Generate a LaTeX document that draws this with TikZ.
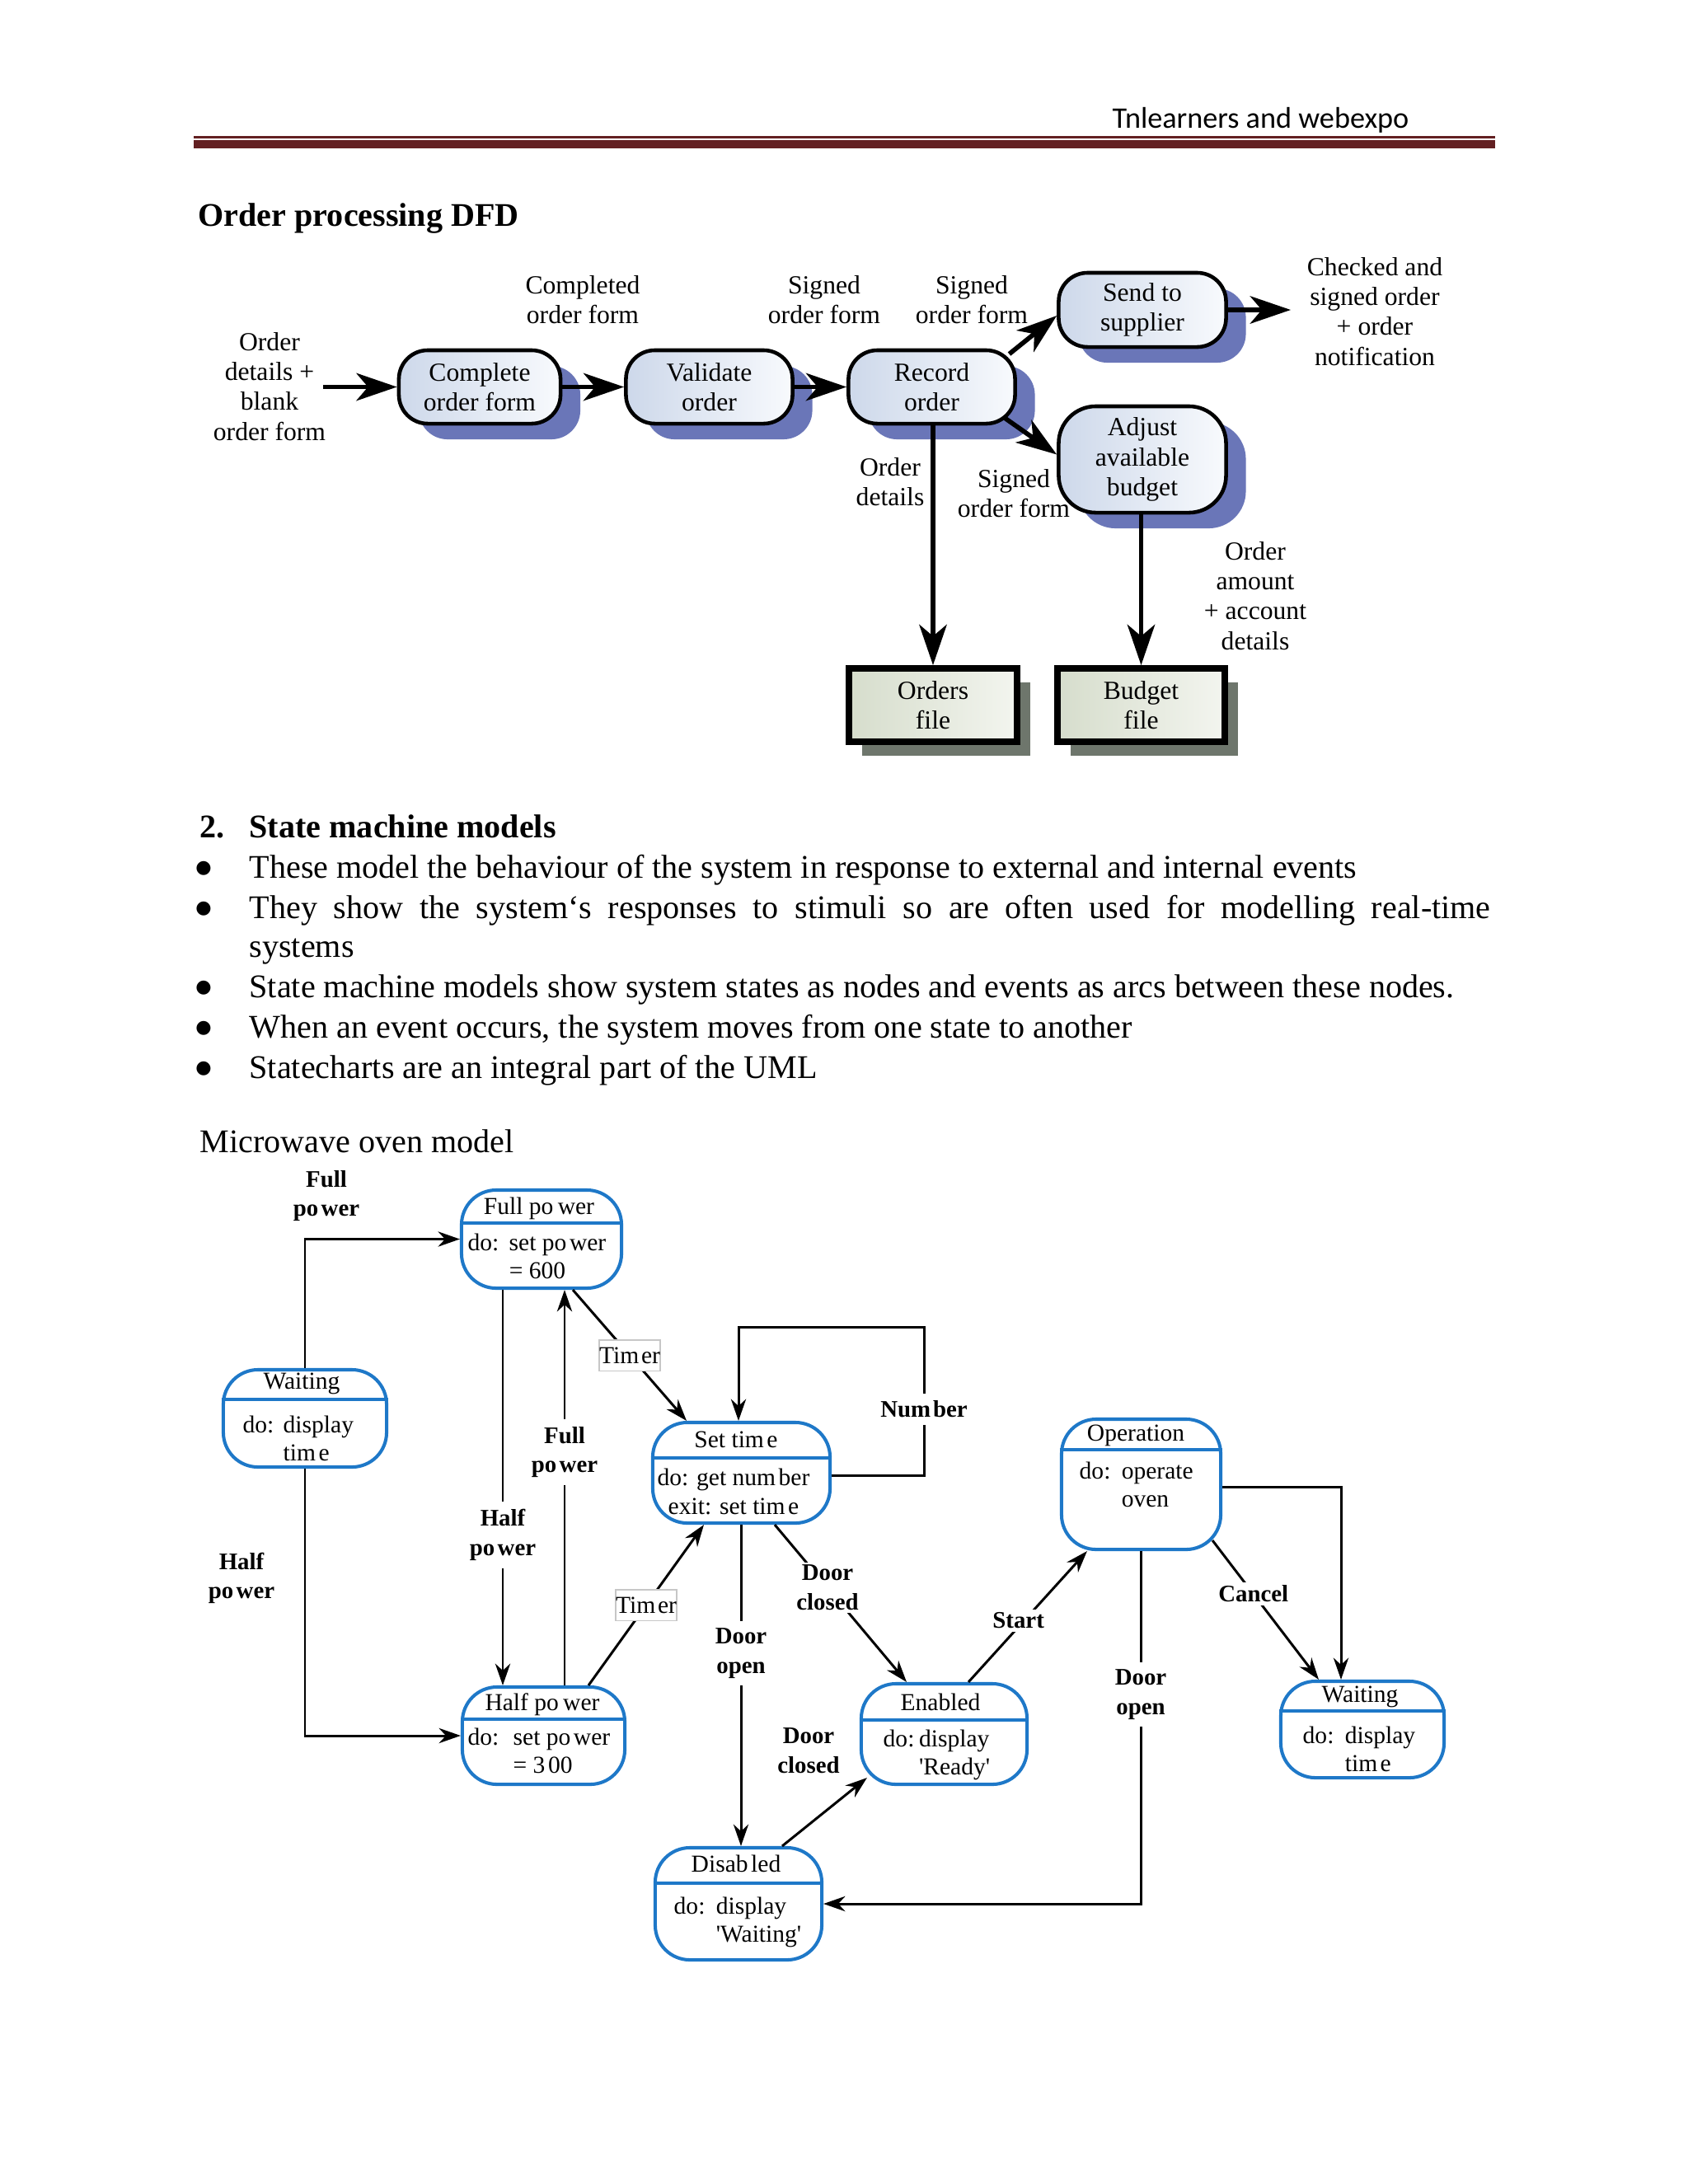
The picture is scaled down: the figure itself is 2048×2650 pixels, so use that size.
\documentclass[tikz,border=0pt]{standalone}
\usepackage{fontspec}
\setmainfont{Liberation Serif}
\newfontfamily\hdrfont{Carlito}
\newfontfamily\djv{DejaVu Sans}
\usetikzlibrary{arrows.meta,shadows,calc}
\definecolor{rulered}{RGB}{99,32,34}
\definecolor{procL}{RGB}{205,216,234}
\definecolor{procR}{RGB}{248,250,253}
\definecolor{shadowblue}{RGB}{106,118,184}
\definecolor{fileL}{RGB}{214,221,204}
\definecolor{fileR}{RGB}{243,245,239}
\definecolor{fileshadow}{RGB}{110,118,108}
\definecolor{mblue}{RGB}{30,120,200}
\newcommand\mybody{\fontsize{11.4}{13.9}\selectfont}
\newcommand\dfdtxt{\fontsize{9}{10.3}\selectfont}
\newcommand\mwtxt{\fontsize{8.4}{9.8}\selectfont}
\newcommand\mwbf{\bfseries\fontsize{8.2}{10.1}\selectfont}
\newcommand\dob[3]{\begin{tabular}[t]{@{}l@{\hspace{#1}}l@{}}do: & #2\\ & #3\end{tabular}}
\begin{document}
\begin{tikzpicture}[x=0.01cm,y=-0.01cm,
  proc/.style={draw=black, line width=1.3pt, rounded corners=0.35cm, left color=procL, right color=procR, inner sep=0pt, align=center, font=\dfdtxt, drop shadow={shadow xshift=0.24cm, shadow yshift=-0.19cm, fill=shadowblue, opacity=1}},
  filebox/.style={draw=black, line width=2.2pt, left color=fileL, right color=fileR, inner sep=0pt, align=center, font=\dfdtxt, drop shadow={shadow xshift=0.16cm, shadow yshift=-0.17cm, fill=fileshadow, opacity=1}},
  dfdlbl/.style={align=center, font=\dfdtxt, inner sep=0pt},
  dfdarr/.style={line width=1.6pt, -{Stealth[length=14pt,width=9.5pt,inset=4pt]}},
  mstate/.style={draw=mblue, line width=1.15pt, rounded corners=0.42cm, fill=white, inner sep=0pt},
  mdiv/.style={draw=mblue, line width=1.15pt},
  mtitle/.style={font=\mwtxt, inner sep=0pt, anchor=base},
  mbody/.style={font=\mwtxt, inner sep=0pt, anchor=base west},
  marr/.style={line width=0.85pt, -{Stealth[length=7.5pt,width=5.2pt,inset=2.4pt]}},
  mlbl/.style={font=\mwbf, align=center, fill=white, inner sep=2.6pt},
  dlbl/.style={font=\mwbf, align=center, fill=white, inner sep=1pt},
  tbox/.style={font=\mwtxt, draw=black!22, line width=0.4pt, fill=white, inner xsep=0pt, inner ysep=2.5pt},
  txt/.style={anchor=base west, inner sep=0pt, font=\mybody},
  bul/.style={anchor=center, inner sep=0pt, font=\djv\fontsize{6.3}{6.3}\selectfont}
]
\fill[white] (0,0) rectangle (2048,2650);
\useasboundingbox (0,0) rectangle (2048,2650);

% ---------- header ----------
\node[anchor=base east, inner sep=0pt, font=\hdrfont\fontsize{10.3}{12}\selectfont] (hdr) at (1710,155) {Tnlearners and webexpo};
\fill[rulered] (235,165) rectangle (1814,167.5);
\fill[rulered] (235,170) rectangle (1814,180);

\node[txt, font=\bfseries\mybody] (dfdtitle) at (240,274) {Order processing DFD};

% ---------- DFD ----------
\node[proc, minimum width=1.96cm, minimum height=0.89cm] (comp) at (582,469.5) {Complete\\order form};
\node[proc, minimum width=2.02cm, minimum height=0.89cm] (vali) at (860.5,469.5) {Validate\\order};
\node[proc, minimum width=2.02cm, minimum height=0.89cm] (rec) at (1130.5,469.5) {Record\\order};
\node[proc, minimum width=2.03cm, minimum height=0.90cm] (send) at (1386,376) {Send to\\supplier};
\node[proc, minimum width=2.03cm, minimum height=1.29cm, rounded corners=0.45cm] (adj) at (1386,557.5) {Adjust\\available\\budget};
\node[filebox, minimum width=2.04cm, minimum height=0.89cm] (ofile) at (1132,855.5) {Orders\\file};
\node[filebox, minimum width=2.03cm, minimum height=0.89cm] (bfile) at (1384.5,855.5) {Budget\\file};

\coordinate (inA) at (392,469.5);
\coordinate (outA) at (1566,376);
\draw[dfdarr] (inA) -- (comp.west);
\draw[dfdarr] (comp.east) -- (vali.west);
\draw[dfdarr] (vali.east) -- (rec.west);
\draw[dfdarr] ($(rec.center)+(94,-40)$) -- ($(send.west)+(0,7)$);
\draw[dfdarr] ($(rec.center)+(89,38)$) -- ($(adj.west)+(0,-6)$);
\draw[dfdarr] (send.east) -- (outA);
\draw[dfdarr] (ofile.north |- rec.south) -- (ofile.north);
\draw[dfdarr] (bfile.north |- adj.south) -- (bfile.north);

\node[dfdlbl] (lin) at (327,469) {Order\\details +\\blank\\order form};
\node[dfdlbl] (lcomp) at (707,363.5) {Completed\\order form};
\node[dfdlbl] (lsig1) at (1000,363.5) {Signed\\order form};
\node[dfdlbl] (lsig2) at (1179,363.5) {Signed\\order form};
\node[dfdlbl] (lchk) at (1668,378) {Checked and\\signed order\\+ order\\notification};
\node[dfdlbl] (lodet) at (1080,584.5) {Order\\details};
\node[dfdlbl] (lsig3) at (1230,598.5) {Signed\\order form};
\node[dfdlbl] (lamt) at (1523,723) {Order\\amount\\+ account\\details};

% ---------- text section ----------
\node[txt, font=\bfseries\mybody] (secnum) at (242,1016) {2.};
\node[txt, font=\bfseries\mybody] (sec) at (302,1016) {State machine models};
\node[bul] (bu1) at (247,1053.5) {●};
\node[bul] (bu2) at (247,1102.5) {●};
\node[bul] (bu3) at (247,1198.5) {●};
\node[bul] (bu4) at (247,1247.5) {●};
\node[bul] (bu5) at (247,1296.5) {●};
\node[txt] (b1) at (302,1065) {These model the behaviour of the system in response to external and internal events};
\node[txt] (b2) at (302,1114) {\makebox[15.05cm][s]{They show the system‘s responses to stimuli so are often used for modelling real-time}};
\node[txt] (b2b) at (302,1161) {systems};
\node[txt] (b3) at (302,1210) {State machine models show system states as nodes and events as arcs between these nodes.};
\node[txt] (b4) at (302,1259) {When an event occurs, the system moves from one state to another};
\node[txt] (b5) at (302,1308) {Statecharts are an integral part of the UML};

\node[txt] (mwtitle) at (242,1398) {Microwave oven model};

% ---------- microwave states ----------
\node[mstate, minimum width=1.94cm, minimum height=1.19cm] (fp) at (657,1503.5) {};
\draw[mdiv] (fp.west |- 0,1484) -- (fp.east |- 0,1484);
\node[mstate, minimum width=1.98cm, minimum height=1.18cm] (wl) at (370,1721) {};
\draw[mdiv] (wl.west |- 0,1698) -- (wl.east |- 0,1698);
\node[mstate, minimum width=2.15cm, minimum height=1.22cm] (st) at (899.5,1787) {};
\draw[mdiv] (st.west |- 0,1769) -- (st.east |- 0,1769);
\node[mstate, minimum width=1.97cm, minimum height=1.18cm] (hp) at (659.5,2106) {};
\draw[mdiv] (hp.west |- 0,2086) -- (hp.east |- 0,2086);
\node[mstate, minimum width=1.93cm, minimum height=1.58cm] (op) at (1384.5,1801) {};
\draw[mdiv] (op.west |- 0,1759) -- (op.east |- 0,1759);
\node[mstate, minimum width=2.01cm, minimum height=1.22cm] (en) at (1145.5,2104) {};
\draw[mdiv] (en.west |- 0,2087) -- (en.east |- 0,2087);
\node[mstate, minimum width=1.98cm, minimum height=1.17cm] (wr) at (1653,2098.5) {};
\draw[mdiv] (wr.west |- 0,2076) -- (wr.east |- 0,2076);
\node[mstate, minimum width=2.02cm, minimum height=1.36cm] (di) at (896,2310) {};
\draw[mdiv] (di.west |- 0,2285) -- (di.east |- 0,2285);

\node[mtitle] (fpT) at (654,1473) {Full po\kern1.5pt wer};
\node[mbody] (fpB) at (567,1517) {\dob{3.5pt}{set po\kern1pt wer}{= 600}};
\node[mtitle] (wlT) at (366,1685) {Waiting};
\node[mbody] (wlB) at (294,1738) {\dob{3.2pt}{display}{tim\kern1pt e}};
\node[mtitle] (stT) at (893,1756) {Set tim\kern1pt e};
\node[font=\mwtxt, inner sep=0pt, align=center] (stB) at (890,1810) {do: get num\kern1pt ber\\exit: set tim\kern1pt e};
\node[mtitle] (hpT) at (658,2075) {Half po\kern1.5pt wer};
\node[mbody] (hpB) at (567,2117) {\dob{4.9pt}{set po\kern1pt wer}{= 3\kern1pt 00}};
\node[mtitle] (opT) at (1378,1748) {Operation};
\node[mbody] (opB) at (1309,1794) {\dob{3.8pt}{operate}{oven}};
\node[mtitle] (enT) at (1141,2075) {Enabled};
\node[mbody] (enB) at (1071,2119) {\dob{1.6pt}{display}{\textquotesingle Ready\textquotesingle}};
\node[mtitle] (wrT) at (1650,2065) {Waiting};
\node[mbody] (wrB) at (1580,2115) {\dob{3.8pt}{display}{tim\kern1pt e}};
\node[mtitle] (diT) at (893,2271) {Disab\kern1pt led};
\node[mbody] (diB) at (817,2322) {\dob{3.8pt}{display}{\textquotesingle Waiting\textquotesingle}};

% ---------- microwave transitions ----------
\draw[marr] (wl.north) |- (fp.west);
\draw[marr] (wl.south) |- (hp.west);
\draw[marr] (fp.south -| 610,0) -- node[mlbl,pos=0.62] (lHP2) {Half\\po\kern1pt wer} (hp.north -| 610,0);
\draw[marr] (hp.north -| 685,0) -- node[mlbl,pos=0.59] (lFP2) {Full\\po\kern1pt wer} (fp.south -| 685,0);
\draw[marr] (fp.south -| 695,0) -- node[tbox,pos=0.5] (tm1) {Tim\kern0.8pt er} (st.north -| 833,0);
\draw[marr] (hp.north -| 714,0) -- node[tbox,pos=0.5] (tm2) {Tim\kern0.8pt er} (st.south -| 854,0);
\draw[marr] (st.east |- 0,1790) -| (1121,1610) -| (st.north -| 896,0);
\node[mlbl] (lNum) at (1121,1710) {Num\kern0.8pt ber};
\draw[marr] (st.south -| 940,0) -- node[dlbl,pos=0.4] (lDC1) {Door\\closed} (en.north -| 1100,0);
\draw[marr] (st.south -| 899,0) -- node[mlbl,pos=0.4] (lDO1) {Door\\open} (di.north -| 899,0);
\draw[marr] (di.north -| 949,0) -- ($(en.south west)+(9,-10)$);
\node[mlbl, fill=none] (lDC2) at (981,2124) {Door\\closed};
\draw[marr] (en.north -| 1175,0) -- node[dlbl,pos=0.47,xshift=-0.07cm] (lSt) {Start} ($(op.south west)+(33,0)$);
\draw[marr] ($(op.south east)+(-12,-13)$) -- node[dlbl,pos=0.385] (lCa) {Cancel} (wr.north -| 1600,0);
\draw[marr] (op.east |- 0,1804) -| (wr.north -| 1627,0);
\draw[marr] (op.south) |- (di.east);
\node[mlbl] (lDO2) at (1384,2056) {Door\\open};
\node[mlbl, fill=none] (lFP1) at (396,1451) {Full\\po\kern1pt wer};
\node[mlbl, fill=none] (lHP1) at (293,1915) {Half\\po\kern1pt wer};
\end{tikzpicture}
\end{document}
